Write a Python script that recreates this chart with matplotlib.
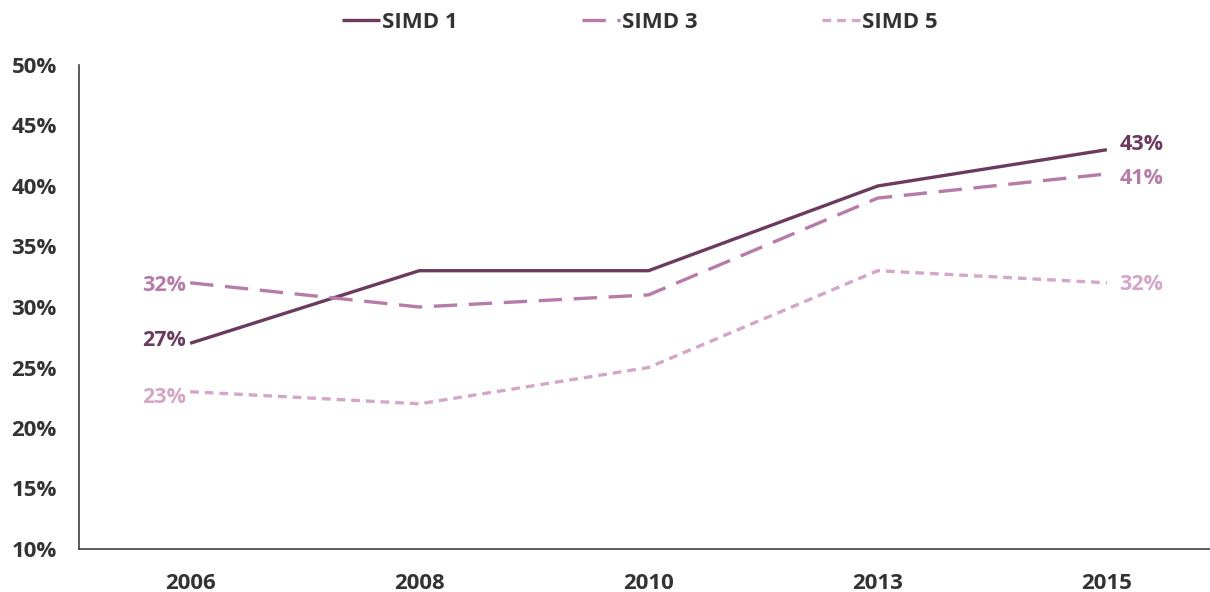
import matplotlib
matplotlib.use("Agg")
import matplotlib.pyplot as plt
from matplotlib.ticker import FixedLocator

plt.rcParams['font.family'] = ['Open Sans', 'DejaVu Sans']

years = ["2006", "2008", "2010", "2013", "2015"]
simd1 = [27, 33, 33, 40, 43]
simd3 = [32, 30, 31, 39, 41]
simd5 = [23, 22, 25, 33, 32]
yticks = [10, 15, 20, 25, 30, 35, 40, 45, 50]

c1 = "#6B3A5F"
c3 = "#B67BA8"
c5 = "#D4A6C8"

fig = plt.figure(figsize=(12.10, 5.92), dpi=100)
ax = fig.add_axes([79/1210, 1-549/592, 1-79/1210, (549-65)/592])

x = list(range(len(years)))
series = [
    ("SIMD 1", simd1, c1, "-", 2, 4),
    ("SIMD 3", simd3, c3, (0, (7, 3.5)), -2, -3),
    ("SIMD 5", simd5, c5, (0, (2.6, 1.8)), -4, -1),
]
for name, vals, col, ls, loff, roff in series:
    ax.plot(x, vals, color=col, lw=2.4, linestyle=ls, label=name,
            solid_capstyle='butt', dash_capstyle='butt')
    ax.annotate(f"{vals[0]}%", (x[0], vals[0]), xytext=(-3, loff), textcoords="offset points",
                ha="right", va="center", color=col, fontsize=15.5, fontweight="bold")
    ax.annotate(f"{vals[-1]}%", (x[-1], vals[-1]), xytext=(9, roff), textcoords="offset points",
                ha="left", va="center", color=col, fontsize=15.5, fontweight="bold")

ax.set_xlim(-0.485, 4.45)
ax.set_ylim(10, 50)
ax.set_xticks(x)
ax.set_xticklabels(years)
ax.yaxis.set_major_locator(FixedLocator(yticks))
ax.set_yticklabels([f"{v}%" for v in yticks])
ax.tick_params(axis='both', length=0, labelsize=16, labelcolor="#333333")
ax.tick_params(axis='y', pad=16)
ax.tick_params(axis='x', pad=17)
for lab in ax.get_xticklabels() + ax.get_yticklabels():
    lab.set_fontweight("bold")
for s in ["top", "right"]:
    ax.spines[s].set_visible(False)
for s in ["left", "bottom"]:
    ax.spines[s].set_color("#404040")
    ax.spines[s].set_linewidth(1.2)

leg = fig.legend(loc="center", bbox_to_anchor=(640/1210, 1-22/592), ncol=3, frameon=False,
                 handlelength=1.7, handletextpad=0.1, columnspacing=5.6,
                 prop={"size": 16, "weight": "bold"})
for t in leg.get_texts():
    t.set_color("#333333")

fig.savefig("out.png", dpi=100)
